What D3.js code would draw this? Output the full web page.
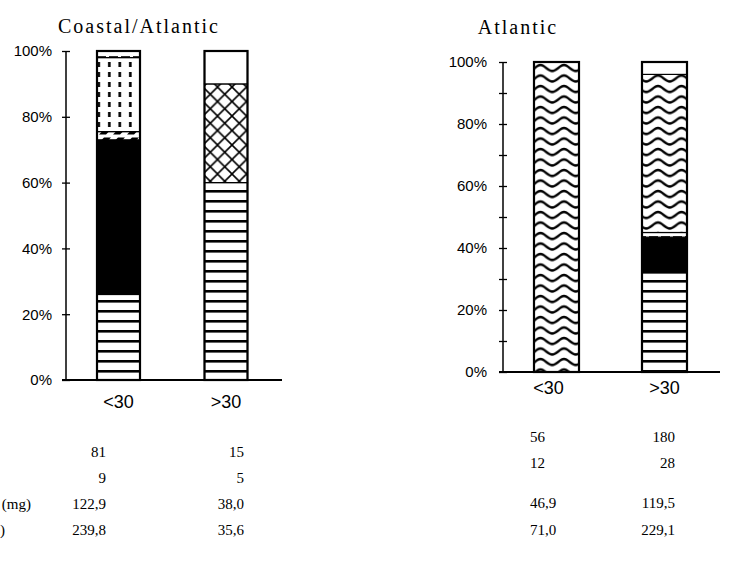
<!DOCTYPE html>
<html>
<head>
<meta charset="utf-8">
<script src="https://d3js.org/d3.v7.min.js"></script>
<style>
  body {
    margin: 0;
    background: #fff;
  }

  .title {
    font-family: "Liberation Serif", serif;
    font-size: 20px;
    letter-spacing: 2px;
  }

  .ylab {
    font-family: "Liberation Sans", sans-serif;
    font-size: 15px;
  }

  .xlab {
    font-family: "Liberation Sans", sans-serif;
    font-size: 18px;
  }

  .num {
    font-family: "Liberation Serif", serif;
    font-size: 15px;
  }
</style>
</head>
<body>
<div id="chart"></div>
<script>
var categories = ["<30", ">30"];
var segmentKeys = ["stripes", "black", "diagonal", "dots", "band", "crosshatch", "wave", "empty"];

// percent of each bar, bottom to top, in segmentKeys order
var coastalLow = [26, 47, 2.5, 22.5, 2, 0, 0, 0];
var coastalHigh = [60, 0, 0, 0, 0, 30, 0, 10];
var atlanticLow = [0, 0, 0, 0, 0, 0, 100, 0];
var atlanticHigh = [32, 11.5, 0, 0, 1.5, 0, 51, 4];

var majorTicks = [0, 20, 40, 60, 80, 100];
var minorTicks = [0, 10, 20, 30, 40, 50, 60, 70, 80, 90, 100];

var coastalTable = [["81", "15"], ["9", "5"], ["122,9", "38,0"], ["239,8", "35,6"]];
var atlanticTable = [["56", "180"], ["12", "28"], ["46,9", "119,5"], ["71,0", "229,1"]];
var rowLabels = ["", "", "(mg)", ")"];

var svg = d3.select("#chart").append("svg")
  .attr("width", 731)
  .attr("height", 563);

var defs = svg.append("defs");

function pattern(id, w, h) {
  var p = defs.append("pattern")
    .attr("id", id)
    .attr("patternUnits", "userSpaceOnUse")
    .attr("width", w)
    .attr("height", h);
  p.append("rect").attr("width", w).attr("height", h).attr("fill", "#fff");
  return p;
}

var p = pattern("stripes", 10, 10);
p.append("rect").attr("y", 0).attr("width", 10).attr("height", 2.6).attr("fill", "#000");

p = pattern("dots", 10.5, 10);
p.append("rect").attr("x", 3).attr("y", 2).attr("width", 2.6).attr("height", 5).attr("fill", "#000");

p = pattern("diagonal", 14, 8);
p.append("path").attr("d", "M1,6.5 L6,1.5 L13,1.5 L8,6.5 Z").attr("fill", "#000");

p = pattern("band", 12, 6);
p.append("rect").attr("x", 1).attr("y", 2.2).attr("width", 9).attr("height", 1.6).attr("fill", "#000");

p = pattern("crosshatch", 14.5, 14.5);
p.append("path")
  .attr("d", "M0,0 L14.5,14.5 M14.5,0 L0,14.5")
  .attr("stroke", "#000")
  .attr("stroke-width", 1.6);

p = pattern("wave", 23.5, 10.5);
p.append("path")
  .attr("d", "M-2,2.5 L0,2 C4,2 7.5,8 11.75,8 C16,8 19.5,2 23.5,2 L25.5,2.5")
  .attr("fill", "none")
  .attr("stroke", "#000")
  .attr("stroke-width", 2.4)
  .attr("stroke-linejoin", "round");

var fills = {
  stripes: "url(#stripes)",
  black: "#000",
  diagonal: "url(#diagonal)",
  dots: "url(#dots)",
  band: "url(#band)",
  crosshatch: "url(#crosshatch)",
  wave: "url(#wave)",
  empty: "#fff"
};

function drawPanel(cfg) {
  var rows = categories.map(function(c, i) {
    var obj = { category: c };
    segmentKeys.forEach(function(k, j) {
      obj[k] = cfg.values[i][j];
    });
    return obj;
  });

  var stacked = d3.stack().keys(segmentKeys)(rows);

  var y = d3.scaleLinear()
    .domain([0, 100])
    .range([cfg.bottom, cfg.top]);

  var x = d3.scalePoint()
    .domain(categories)
    .range(cfg.xRange);

  var g = svg.append("g");

  g.append("text")
    .attr("class", "title")
    .attr("x", cfg.titleX)
    .attr("y", cfg.titleY)
    .attr("text-anchor", "middle")
    .text(cfg.title);

  // y axis, ticks cross the line
  var yAxis = d3.axisLeft(y)
    .tickValues(cfg.ticks)
    .tickSize(4)
    .tickPadding(cfg.labelPad)
    .tickFormat(function(d) {
      return d % 20 == 0 ? d + "%" : "";
    });

  var ax = g.append("g")
    .attr("class", "ylab")
    .attr("transform", "translate(" + cfg.axisX + ",0)")
    .call(yAxis);
  ax.select(".domain").remove();
  ax.selectAll(".tick line").attr("x1", 4).attr("x2", -4).attr("stroke-width", 1.3);
  ax.selectAll(".tick text").attr("fill", "#000");
  ax.attr("font-family", null).attr("font-size", null);

  g.append("line")
    .attr("x1", cfg.axisX).attr("x2", cfg.axisX)
    .attr("y1", y(100)).attr("y2", y(0))
    .attr("stroke", "#000").attr("stroke-width", 1.5);

  g.append("line")
    .attr("x1", cfg.axisX - 4).attr("x2", cfg.axisEnd)
    .attr("y1", y(0)).attr("y2", y(0))
    .attr("stroke", "#000").attr("stroke-width", 2);

  // bars
  stacked.forEach(function(layer) {
    g.selectAll(null)
      .data(layer.filter(function(d) { return d[1] > d[0]; }))
      .enter()
      .append("rect")
      .attr("x", function(d) { return x(d.data.category) - cfg.barW / 2; })
      .attr("y", function(d) { return y(d[1]); })
      .attr("width", cfg.barW)
      .attr("height", function(d) { return y(d[0]) - y(d[1]); })
      .attr("fill", fills[layer.key])
      .attr("stroke", "#000")
      .attr("stroke-width", 1.2);
  });

  g.selectAll(null)
    .data(categories)
    .enter()
    .append("rect")
    .attr("x", function(d) { return x(d) - cfg.barW / 2; })
    .attr("y", y(100))
    .attr("width", cfg.barW)
    .attr("height", y(0) - y(100))
    .attr("fill", "none")
    .attr("stroke", "#000")
    .attr("stroke-width", 2.2);

  g.selectAll(null)
    .data(categories)
    .enter()
    .append("text")
    .attr("class", "xlab")
    .attr("x", function(d, i) { return x(d) + cfg.xlabShift[i]; })
    .attr("y", cfg.xlabY)
    .attr("text-anchor", "middle")
    .text(function(d) { return d; });

  // table of counts under the chart
  cfg.table.forEach(function(row, r) {
    row.forEach(function(v, c) {
      g.append("text")
        .attr("class", "num")
        .attr("x", cfg.colX[c])
        .attr("y", cfg.rowY[r])
        .attr("text-anchor", cfg.colAnchor[c])
        .text(v);
    });
  });
}

drawPanel({
  title: "Coastal/Atlantic",
  titleX: 139, titleY: 33,
  values: [coastalLow, coastalHigh],
  ticks: majorTicks,
  top: 51, bottom: 380,
  axisX: 66, axisEnd: 282, labelPad: 10,
  xRange: [118.5, 226], barW: 43,
  xlabShift: [0, 0], xlabY: 408,
  table: coastalTable,
  colX: [106, 244],
  colAnchor: ["end", "end"],
  rowY: [457, 483, 509, 535]
});

drawPanel({
  title: "Atlantic",
  titleX: 518, titleY: 34,
  values: [atlanticLow, atlanticHigh],
  ticks: minorTicks,
  top: 62, bottom: 372,
  axisX: 503, axisEnd: 720, labelPad: 12,
  xRange: [556.5, 664.5], barW: 45,
  xlabShift: [-8, 0], xlabY: 394,
  table: atlanticTable,
  colX: [530, 675],
  colAnchor: ["start", "end"],
  rowY: [442, 468, 508, 535]
});

svg.selectAll(null)
  .data(rowLabels)
  .enter()
  .append("text")
  .attr("class", "num")
  .attr("x", function(d) { return d == ")" ? 5 : 31; })
  .attr("y", function(d, i) { return [457, 483, 509, 535][i]; })
  .attr("text-anchor", "end")
  .text(function(d) { return d; });
</script>
</body>
</html>
